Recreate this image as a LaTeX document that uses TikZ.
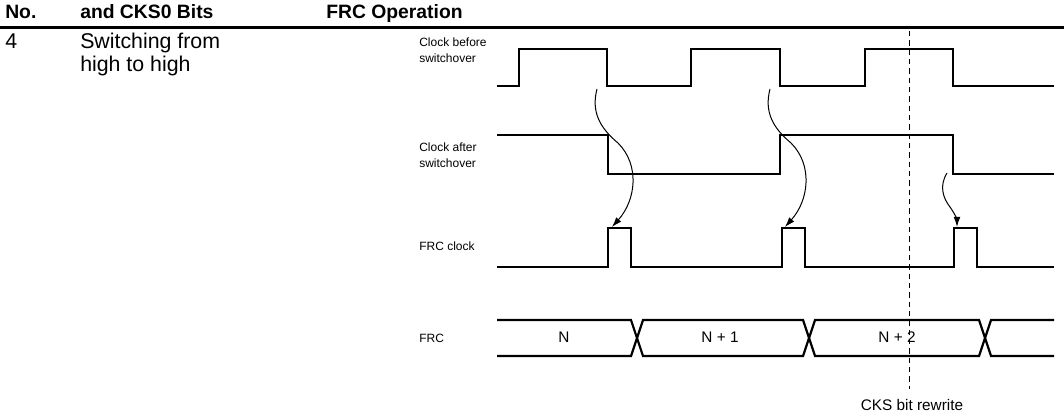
\documentclass[tikz,border=0pt]{standalone}
\usepackage{fontspec}
\setmainfont{Liberation Sans}
\usetikzlibrary{arrows.meta}
\begin{document}
\begin{tikzpicture}[x=0.75pt,y=-0.75pt,
  hdr/.style={anchor=base west,inner sep=0,font=\fontsize{14.5}{17}\selectfont\bfseries},
  body/.style={anchor=base west,inner sep=0,font=\fontsize{16}{19}\selectfont},
  lbl/.style={anchor=base west,inner sep=0,font=\fontsize{9}{11}\selectfont},
  bus/.style={anchor=base,inner sep=0,font=\fontsize{11.5}{14}\selectfont},
  wave/.style={line width=1.65pt,line join=miter},
  cause/.style={line width=0.75pt,-{Latex[length=7.5pt,width=5pt]}},
  marker/.style={line width=0.7pt,dash pattern=on 4pt off 3pt}]
\useasboundingbox (0,0) rectangle (1064,417);
% header
\node[hdr] (hno) at (5,19) {No.};
\node[hdr] (hbits) at (80,19) {and CKS0 Bits};
\node[hdr] (hop) at (326,19) {FRC Operation};
\draw[line width=2.25pt] (0,28) -- (1064,28);
% row
\node[body] (num) at (5,49) {4};
\node[body] (desc1) at (80,49) {Switching from};
\node[body] (desc2) at (80,72) {high to high};
% signal labels
\node[lbl] (cb1) at (419,47) {Clock before};
\node[lbl] (cb2) at (419,63) {switchover};
\node[lbl] (ca1) at (419,152) {Clock after};
\node[lbl] (ca2) at (419,168) {switchover};
\node[lbl] (fc) at (419,251) {FRC clock};
\node[lbl] (frc) at (419,342) {FRC};
% waveforms
\draw[wave] (497,86) -| (519,49) -| (607,86) -| (691,49) -| (780,86) -| (865,49) -| (953,86) -- (1054,86);
\draw[wave] (497,135) -| (608,174) -| (780,135) -| (953,174) -- (1054,174);
\draw[wave] (497,267) -| (608,228) -| (631,267) -| (782,228) -| (805,267) -| (954,228) -| (977,267) -- (1054,267);
% bus
\draw[wave] (497,320) -- (631,320) -- (643,356) -- (803,356) -- (815,320) -- (979,320) -- (991,356) -- (1054,356);
\draw[wave] (497,356) -- (631,356) -- (643,320) -- (803,320) -- (815,356) -- (979,356) -- (991,320) -- (1054,320);
\node[bus] (v0) at (564,342) {N};
\node[bus] (v1) at (720,342) {N + 1};
\node[bus] (v2) at (897,342) {N + 2};
% CKS rewrite marker
\coordinate (mtop) at (909,31);
\node[bus] (cks) at (912,410) {CKS bit rewrite};
\draw[marker] (mtop) -- (909,389);
% cause arrows
\coordinate (a1s) at (597,89);
\coordinate (a1e) at (612,227);
\coordinate (a2s) at (770,89);
\coordinate (a2e) at (785,227);
\coordinate (a3s) at (947,173);
\coordinate (a3e) at (957,227);
\draw[cause] (a1s) .. controls (591,112) and (600,128) .. (618,143) .. controls (640,165) and (636,200) .. (a1e);
\draw[cause] (a2s) .. controls (764,112) and (773,128) .. (791,143) .. controls (813,165) and (809,200) .. (a2e);
\draw[cause] (a3s) .. controls (939,186) and (943,198) .. (950,207) .. controls (955,214) and (957,220) .. (a3e);
\end{tikzpicture}
\end{document}
